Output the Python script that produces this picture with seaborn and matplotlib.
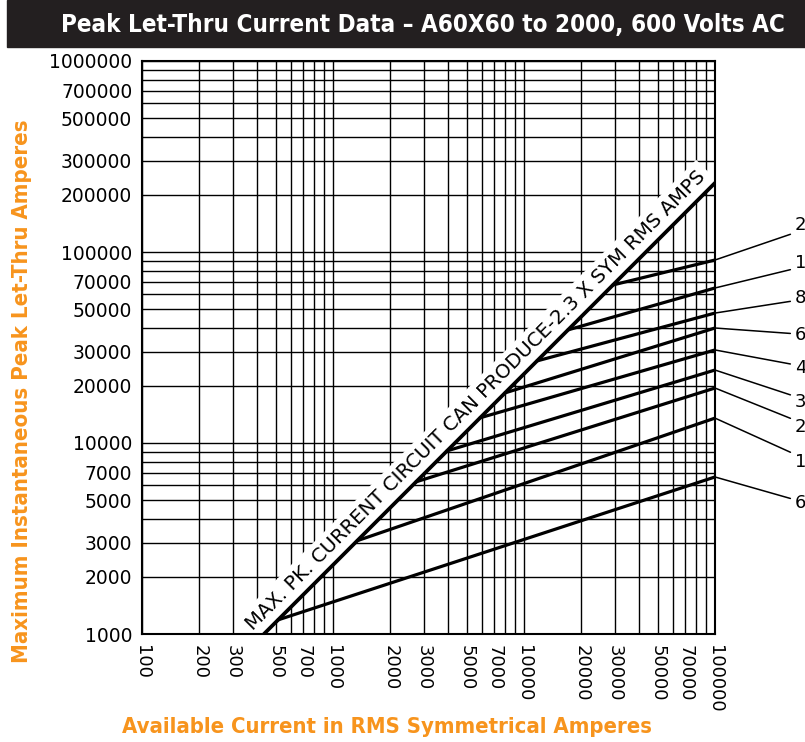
import numpy as np
import pandas as pd
import matplotlib
matplotlib.use("Agg")
import matplotlib.pyplot as plt
import matplotlib.ticker as mticker
from matplotlib.patches import Rectangle
import seaborn as sns

# fuse ratings (labels at right, partly cut off by the page edge)
ratings = ["60", "100", "200", "300", "400", "600", "800", "1200", "2000"]
# each curve starts on the 2.3x line and runs to 100000 A RMS
start_rms = [515, 1340, 2720, 3950, 5890, 7960, 11700, 17000, 29200]
start_peak = [1185, 3080, 6260, 9090, 13550, 18300, 26900, 39100, 67200]
end_rms = [100000] * 9
end_peak = [6640, 13500, 19400, 24100, 30700, 40000, 47900, 64800, 90800]

# max peak line (2.3 x sym RMS amps)
max_rms = [435, 100000]
max_peak = [1000, 230000]

x_ticks = [100, 200, 300, 500, 700, 1000, 2000, 3000, 5000, 7000,
           10000, 20000, 30000, 50000, 70000, 100000]
y_ticks = [1000, 2000, 3000, 5000, 7000, 10000, 20000, 30000, 50000, 70000,
           100000, 200000, 300000, 500000, 700000, 1000000]

# layout of rating labels (image pixels from top)
label_y_px = [503, 462, 427, 402, 368, 335, 298, 263, 225]

W, H = 805, 742
ORANGE = "#F7941D"
NARROW = ["Liberation Sans Narrow", "DejaVu Sans"]

sns.set_theme(style="white")
plt.rcParams["font.family"] = ["DejaVu Sans"]

fig = plt.figure(figsize=(W / 100, H / 100), dpi=100)
ax = fig.add_axes([142 / W, 1 - 634 / H, (715 - 142) / W, (634 - 61) / H])


def fit(t, target, vertical=False):
    # scale a text's font size so that it spans target pixels
    fig.canvas.draw()
    bb = t.get_window_extent()
    size = bb.height if vertical else bb.width
    t.set_fontsize(t.get_fontsize() * target / size)


rows = []
for r, x0, y0, x1, y1 in zip(ratings, start_rms, start_peak, end_rms, end_peak):
    rows.append({"rating": r, "rms": x0, "peak": y0})
    rows.append({"rating": r, "rms": x1, "peak": y1})
df = pd.DataFrame(rows)
df_max = pd.DataFrame({"rms": max_rms, "peak": max_peak})

ax.set_xscale("log")
ax.set_yscale("log")
ax.set_xlim(100, 100000)
ax.set_ylim(1000, 1000000)

sns.lineplot(data=df, x="rms", y="peak", units="rating", estimator=None,
             color="black", lw=2.3, ax=ax, legend=False, zorder=4)
sns.lineplot(data=df_max, x="rms", y="peak", color="black", lw=2.7,
             ax=ax, legend=False, zorder=5)

# log paper grid
ax.xaxis.set_major_locator(mticker.FixedLocator(x_ticks))
ax.yaxis.set_major_locator(mticker.FixedLocator(y_ticks))
ax.xaxis.set_minor_locator(mticker.LogLocator(base=10, subs=np.arange(2, 10)))
ax.yaxis.set_minor_locator(mticker.LogLocator(base=10, subs=np.arange(2, 10)))
ax.xaxis.set_major_formatter(mticker.FuncFormatter(lambda v, p: f"{int(round(v))}"))
ax.yaxis.set_major_formatter(mticker.FuncFormatter(lambda v, p: f"{int(round(v))}"))
ax.xaxis.set_minor_formatter(mticker.NullFormatter())
ax.yaxis.set_minor_formatter(mticker.NullFormatter())
ax.grid(which="both", color="black", lw=1.0, zorder=1)
ax.set_axisbelow(True)
ax.tick_params(which="both", length=0)
ax.tick_params(axis="x", pad=8, labelsize=13, rotation=-90, colors="black")
ax.tick_params(axis="y", pad=7, labelsize=13.5, colors="black")
for lab in ax.get_xticklabels():
    lab.set_va("top")
    lab.set_ha("center")
ax.set_xlabel("")
ax.set_ylabel("")
for sp in ax.spines.values():
    sp.set_color("black")
    sp.set_linewidth(1.5)
    sp.set_zorder(6)

# text along the max line, on a white band that breaks the grid
p0 = ax.transData.transform((max_rms[0], max_peak[0]))
p1 = ax.transData.transform((max_rms[1], max_peak[1]))
ang = np.degrees(np.arctan2(p1[1] - p0[1], p1[0] - p0[0]))
off = 7
band = ax.annotate("MAX. PK. CURRENT CIRCUIT CAN PRODUCE-2.3 X SYM RMS AMPS",
                   xy=(6400, 6400 * 2.3),
                   xytext=(-off * np.sin(np.radians(ang)), off * np.cos(np.radians(ang))),
                   textcoords="offset points", rotation=ang, rotation_mode="anchor",
                   ha="center", va="baseline", fontsize=14.2, color="black", zorder=3,
                   bbox=dict(facecolor="white", edgecolor="none", pad=3.5))
band.set_clip_on(True)
band.set_clip_path(ax.patch)

# leader lines to rating labels
for r, yv, ly in zip(ratings, end_peak, label_y_px):
    ax.annotate(r, xy=(100000, yv), xycoords="data",
                xytext=(795, H - ly), textcoords="figure pixels",
                ha="left", va="center", fontsize=13, color="black",
                annotation_clip=False,
                arrowprops=dict(arrowstyle="-", lw=1.1, color="black",
                                shrinkA=1, shrinkB=0))

# title bar
fig.patches.append(Rectangle((7 / W, 1 - 47 / H), 1 - 7 / W, 47 / H,
                             transform=fig.transFigure, color="#231F20", zorder=0))
title = fig.text(423 / W, 1 - 25 / H,
                 "Peak Let-Thru Current Data \u2013 A60X60 to 2000, 600 Volts AC",
                 ha="center", va="center", color="white", fontsize=21,
                 fontweight="bold", fontstretch="condensed", family=NARROW)

# axis titles
ylab = fig.text(22 / W, 1 - 391 / H, "Maximum Instantaneous Peak Let-Thru Amperes",
                rotation=90, ha="center", va="center", color=ORANGE, fontsize=19,
                fontweight="bold", fontstretch="condensed", family=NARROW)
xlab = fig.text(387 / W, 1 - 727 / H, "Available Current in RMS Symmetrical Amperes",
                ha="center", va="center", color=ORANGE, fontsize=19,
                fontweight="bold", fontstretch="condensed", family=NARROW)

fit(title, 723)
fit(ylab, 543, vertical=True)
fit(xlab, 531)

fig.savefig("out.png", dpi=100)
